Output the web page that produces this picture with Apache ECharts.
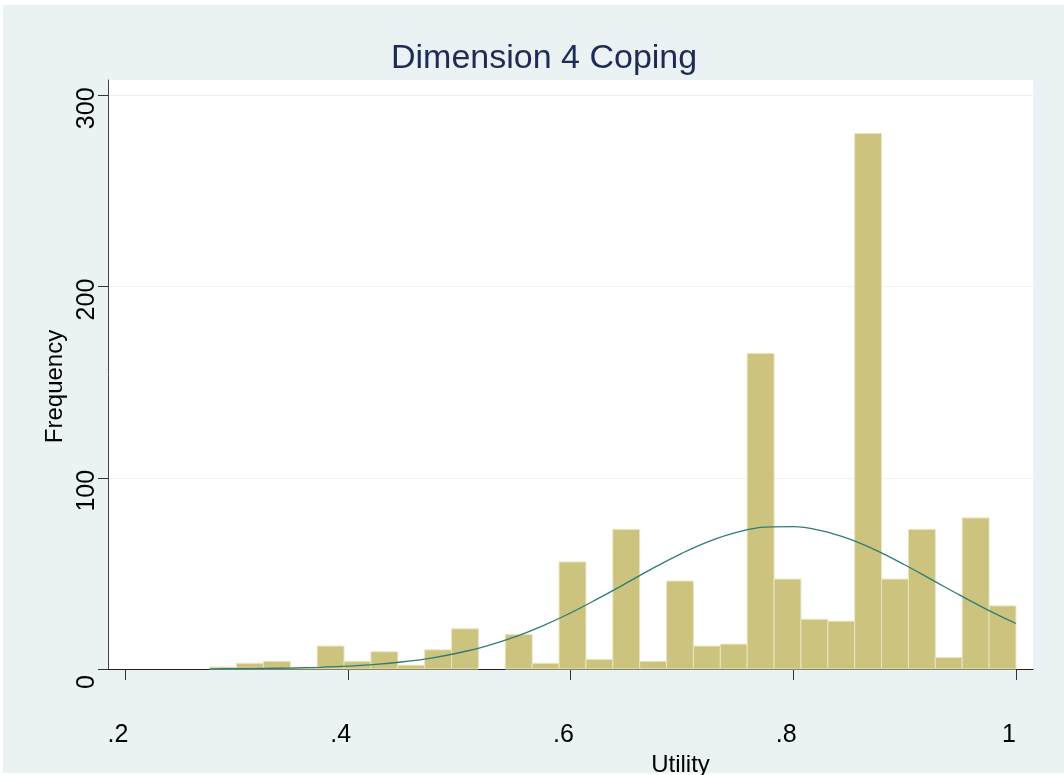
<!DOCTYPE html>
<html>
<head>
<meta charset="utf-8">
<title>Dimension 4 Coping</title>
<script src="https://cdn.jsdelivr.net/npm/echarts@6/dist/echarts.min.js"></script>
<style>
  html, body { margin: 0; padding: 0; background: #fff; }
  #main {
    width: 1064px; height: 775px;
    background-color: #fff;
    background-image: linear-gradient(#eaf2f3, #eaf2f3);
    background-repeat: no-repeat;
    background-position: 3px 5px;
    background-size: 1061px 768px;
  }
</style>
</head>
<body>
<div id="main"></div>
<script>
// histogram bins (Utility)
const binMin = 0.276;
const binWidth = 0.024133;
const counts = [1, 3, 4, 1, 12, 4, 9, 2, 10, 21, 0, 18, 3, 56, 5, 73, 4, 46, 12, 13, 165, 47, 26, 25, 280, 47, 73, 6, 79, 33];

// normal overlay
const curveX = [0.276, 0.3, 0.325, 0.35, 0.375, 0.4, 0.425, 0.45, 0.475, 0.5, 0.525, 0.55, 0.575, 0.6, 0.625, 0.65, 0.675, 0.7, 0.725, 0.75, 0.775, 0.8, 0.825, 0.85, 0.875, 0.9, 0.925, 0.95, 0.975, 1.0];
const curveY = [0.1, 0.15, 0.3, 0.5, 0.9, 1.5, 2.4, 3.8, 5.7, 8.5, 12.1, 16.8, 22.6, 29.3, 36.9, 44.9, 53.0, 60.5, 66.9, 71.6, 74.2, 74.4, 72.3, 68.0, 61.9, 54.5, 46.5, 38.5, 30.8, 23.8];

const xTicks = [0.2, 0.4, 0.6, 0.8, 1.0];
const xTickLabels = ['.2', '.4', '.6', '.8', '1'];
const yTicks = [0, 100, 200, 300];

const font = '"Liberation Sans", Arial, sans-serif';

const myChart = echarts.init(document.getElementById('main'));

const binData = counts.map((c, i) => [binMin + i * binWidth, binMin + (i + 1) * binWidth, c]);
const curveData = curveX.map((x, i) => [x, curveY[i]]);

const option = {
  backgroundColor: 'transparent',
  animation: false,
  title: {
    text: 'Dimension 4 Coping',
    left: 391,
    top: 42,
    padding: 0,
    textStyle: { fontFamily: font, fontSize: 34, fontWeight: 'normal', color: '#1e2b55' }
  },
  grid: {
    left: 108, right: 31, top: 80, bottom: 106,
    outerBoundsMode: 'none',
    containLabel: false,
    show: true, backgroundColor: '#fff', borderWidth: 0
  },
  xAxis: {
    type: 'value',
    min: 0.1847, max: 1.0153,
    name: 'Utility',
    nameLocation: 'middle',
    nameGap: 77,
    nameTextStyle: { fontFamily: font, fontSize: 24, color: '#000', padding: [0, 0, 0, 220] },
    axisLine: { show: true, lineStyle: { color: '#222', width: 1 } },
    axisTick: { show: true, customValues: xTicks, length: 11, lineStyle: { color: '#333' } },
    axisLabel: {
      customValues: xTicks,
      margin: 54,
      fontFamily: font, fontSize: 25, color: '#000',
      padding: [0, 14, 0, 0],
      formatter: v => xTickLabels[xTicks.findIndex(t => Math.abs(t - v) < 1e-6)]
    },
    splitLine: { show: false }
  },
  yAxis: {
    type: 'value',
    min: 0, max: 308,
    interval: 100,
    name: 'Frequency',
    nameLocation: 'middle',
    nameRotate: 90,
    nameGap: 40,
    nameTextStyle: { fontFamily: font, fontSize: 24, color: '#000', padding: [0, 24, 0, 0] },
    axisLine: { show: true, lineStyle: { color: '#444', width: 1 } },
    axisTick: { show: true, customValues: yTicks, length: 10, lineStyle: { color: '#333' } },
    axisLabel: {
      customValues: yTicks,
      rotate: 90,
      margin: 8,
      fontFamily: font, fontSize: 25, color: '#000',
      padding: [0, 26, 0, 0]
    },
    splitLine: { show: true, lineStyle: { color: '#eaf2f3', width: 1 } }
  },
  series: [
    {
      type: 'custom',
      data: binData,
      z: 2,
      renderItem(params, api) {
        const n = api.value(2);
        if (!n) return null;
        const p0 = api.coord([api.value(0), n]);
        const p1 = api.coord([api.value(1), 0]);
        return {
          type: 'rect',
          shape: { x: p0[0], y: p0[1], width: p1[0] - p0[0], height: p1[1] - p0[1] },
          style: { fill: '#ccc37f', stroke: '#e9e5bd', lineWidth: 1 }
        };
      }
    },
    {
      type: 'line',
      data: curveData,
      smooth: 0.4,
      showSymbol: false,
      z: 3,
      lineStyle: { color: '#2e7c78', width: 1.3 }
    }
  ]
};

myChart.setOption(option);
</script>
</body>
</html>
